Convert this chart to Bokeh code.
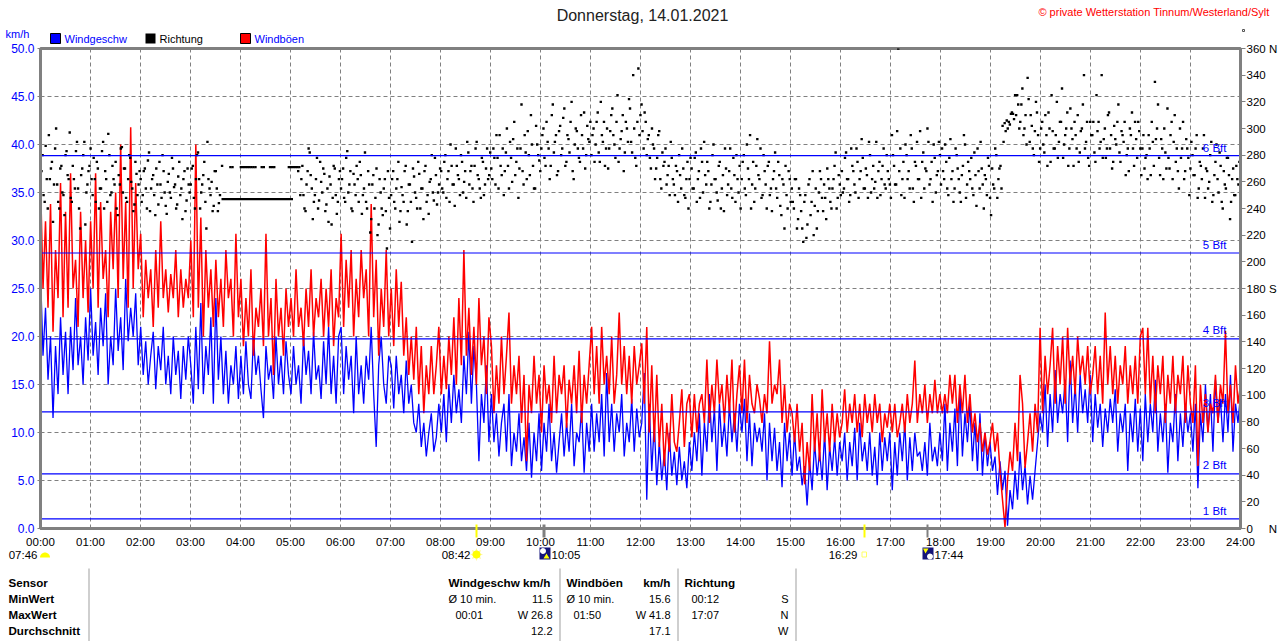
import numpy as np
from bokeh.plotting import figure
from bokeh.core.properties import value
from bokeh.models import Range1d, LinearAxis, FixedTicker
from bokeh.embed import file_html
from bokeh.resources import INLINE

# ---- data ----
N = float("nan")
wind_speed = [
 26.8,18,23,15.5,20,11.5,19,14,22,16,20.5,14,21,16.5,24,17,20,15,22,17.5,
 25,18,21.5,16,23,19,24.5,15,20,17,25,18.5,22,16.5,26,19.5,23,20,24.5,17,
 21,16,19.5,15,18,20.5,14.5,19,16.5,21,15,18,14,20,16,18.5,13.5,19,15.5,20,
 17,13,21,14.5,23.5,14,19,16,22,13,24,15.5,20,14,18.5,13,17,15,19,13.5,
 18,14,19.5,15,13.5,20,16,18,14.5,11.5,19,15.5,17,13.5,20,15,18,14,19.5,16,
 14,19,15,17,13,20,16,18.5,14,20.5,15.5,17,13.5,19.5,15,21,14,18,13,20,
 21,14,19,15.5,18,12,20,14,17,13,18,15.5,21,14,8.5,17,20,15,13,18,
 17,12.5,18,14,16,12,17.5,13,15,11,10,13,8.5,11,7.5,10,12,8,9.5,13,
 10,14,9,15,11,16,12,14.5,11,18,14,20.5,13,19,15,7,14,11,17,9,
 14,9,12,7.5,11,13,8,14,6.5,10,8,12,7,9.5,6,11,5.3,10,7,12,
 6,11,8,13,7,10,5.8,9,12,7.5,11,8,13,6.5,10,9,12.5,5.8,11,8,
 13,8,12,9,14,7.5,16.2,9,13,8,12,10,14,7.5,11,9,13.5,8,12.5,9.5,
 11,16.2,3,13,6,11,4.5,9,5,8,4,10,5.5,8,4.5,8.5,5,7,4.2,9,
 6,10,7,12,5.5,11,8,14,9,12.5,6,13,8.5,11,7.5,13,9,12,8,13,
 10,13.5,7,12,6.5,11,9,10.5,8,12,5,11,7,10.5,6,9,4.3,11,7,10,
 5.5,10,6,7.5,4.5,6.5,2.4,7,4,9,5.5,8,5,10,4,8.5,6,9.5,5.5,9,
 7,10,5,9,6.5,10.5,5,11,7,9,6,10,5.5,8.5,4.5,10,6,9.5,7,10,
 4,9,5.5,10,7,11,5,9.5,6,10,7.5,8,6,9,5.5,11,7,8.5,6.5,10,
 7,13,6,11,8,12.5,6.5,14.5,7.5,12,9,13,7,11,6,12,5.5,10,6.5,9,
 6,7.5,3.5,7,4,6,0.3,4,2,6,3,8,4,6.5,2.5,5.5,3,6,9,12,
 10,15,8.5,14,10,16.5,11,14,12,15.5,9,17.5,11,15,10,16,12,14.5,11,16,
 9,14,10.5,13,8.5,12.5,10,13.5,11,14.5,8,12,10,13,6,12,9,13.5,8,12.5,
 7,14,9,13,10,15.5,8,12,9,13,5.8,11,9,14,7,12,8.5,13,10,12,
 8,13,4.2,12,9,15,10,14,8,15.5,11,13.5,9,14,10,16,8,13,11,14,
]
wind_gust = [
 36.3,25,32,23,33.8,20.5,29,24,36,22,33,23,37,25,28,21,33,24,30,22.5,
 32,25,37,23,34,26,29,22,33,27,35,24,40,26,34,23,41.8,25,36,27,
 30.7,22,28,24,27,21,29,23,32,24,27,22.5,26.5,24,29,22,27,23,26,24,
 30,22,40,23,32.4,20,29,23,27,21,28,22,26,21,29,24,26,20,30.7,22,
 26,19,24,20,27,18,23,21,25,19,30.7,20,24,16,26,20,23,18,25,21,
 24,20,27,21,23,19,25,21,27,20,24,22,26,20,25,21,27,19,24,22,
 30.7,21,28,23,29,20,26,22,29,24,27,20,33.8,22,28,18,25,21,29,20,
 25,19,27,21,25.7,18,22,16,20,15.5,21,14,19,12,17,14,19,14,17,21,
 14,18,14.5,20,16,22,15,24,17,29,18,23,16,21,15,24,17,20,14,22,
 19,12,17,13,20,14,18,22.5,13,17,14,18,11,16,7,15,12,18,13,16,
 10,17,13,15,11,18,12,16,14,17,10.5,15.5,13,17,12,18.5,11,16,13,17,
 21,14,19,13,21,15,18,14,20,13,16,22.5,15,19,14,18,13,19,15,17,
 19.3,13,21,10,17,9,16,8.5,13,6.5,11,8,14,9,8,11,14.5,8.5,13,14,
 9.5,14,10,13,14,11,17.6,11,15,12,17.6,13,15,11,16,12,17.6,10,14,17,
 12,17.6,11,16,13,12,15,13.5,11,14,12,19.5,13,15,14,17.6,11,15,10,13,
 12,9,13,8,11,4.6,9,6,14,8,12,7,14.5,9,12,8,13,9,12,9.5,
 11,14.5,10,13,11,14,10,13,9.5,14,11,13,10,14,11,13,9,12,10.5,13,
 10,13,9.5,11,13,10,14,11,13,17.5,11,14,12,15,11,14,12,15.5,12,14,
 12,14,12,16,13,16,11,15,12,16,11,14,10,12,9,11,8,10,7.7,9,
 11,8,10,6,3,0.1,5,8,6,11,7,16,13,6.3,9,12,8,13,10,20.9,
 12,18,14,17,20.9,13,19,15,20,13,20.9,15,18,14,20,16,18,15,19,14,
 16,19,14,18,13,22.5,15,19,14,18,13,17,15,19,13,17,14,18,13,20,
 20.9,14,20.9,13,18,12,17,14,18,11,16,13,18,12,16,14,18,11,17,13,
 11,17,6.5,15,11,14,10,13,12,16,11,15,13,20.6,12,15,11,17,13,15,
]
wind_dir_a = [
 255,280,245,262,295,270,230,285,258,240,272,250,280,265,297,245,262,283,255,225,270,290,252,268,
 285,250,262,275,240,255,290,268,245,280,252,262,275,235,258,286,270,248,262,278,255,243,266,258,
 262,250,270,240,282,255,265,235,258,275,248,268,242,260,252,278,256,240,264,250,232,268,246,258,
 258,272,240,280,262,252,265,245,290,255,260,242,268,238,250,272,N,N,N,271,271,N,N,N,
 271,271,271,271,271,271,271,271,N,N,271,271,N,N,271,271,271,N,N,N,N,N,N,271,
 271,271,271,271,271,262,250,238,268,282,255,245,262,240,275,252,266,243,230,258,248,270,236,262,
 255,270,245,283,258,240,266,250,262,275,236,255,245,268,222,258,240,270,228,252,235,262,210,248,
 250,268,240,262,230,256,245,272,238,258,215,264,248,275,240,255,268,245,236,262,252,278,243,258,
 268,252,280,262,245,272,258,285,265,250,275,260,248,282,268,255,272,290,262,248,275,258,285,265,
 270,285,258,278,295,265,250,282,272,290,260,305,275,248,285,268,295,262,280,310,272,255,288,276,
 285,300,272,290,262,310,282,295,268,302,285,315,275,292,305,268,288,298,278,310,285,270,302,290,
 280,300,288,312,275,295,305,285,270,298,315,288,305,275,292,310,282,300,322,290,340,278,305,295,
 318,285,305,292,278,300,285,270,295,262,282,275,258,272,290,262,250,268,280,255,270,248,275,262,
 270,255,282,262,248,275,290,258,268,245,280,262,252,272,240,265,285,250,268,255,278,245,262,272,
 262,280,250,270,295,258,245,272,265,285,250,268,240,275,255,262,282,248,265,235,258,272,240,262,
 255,240,262,232,250,225,245,218,258,235,268,242,225,252,262,238,248,270,255,240,262,282,248,258,
 268,255,282,262,250,272,258,285,248,268,278,255,265,290,252,272,260,248,275,262,285,255,268,258,
 295,272,258,360,285,262,248,280,268,295,255,275,290,262,248,282,270,300,258,275,288,252,268,280,
 285,262,275,250,292,268,255,280,262,245,272,288,258,268,278,250,265,285,255,270,240,262,278,248,
 270,255,280,262,272,302,304,306,305,311,311,325,325,300,318,295,310,338,290,302,280,320,295,285,
 305,282,295,312,275,298,285,320,290,305,278,295,312,285,300,272,295,310,282,300,340,290,278,305,
 295,282,325,305,290,278,300,285,312,295,275,292,305,282,298,290,265,285,300,312,272,292,305,285,
 285,270,280,295,265,290,335,300,278,292,262,282,315,270,305,290,275,268,300,285,262,292,278,270,
 280,265,295,255,272,285,248,268,260,290,250,275,262,282,245,268,255,278,232,262,250,272,258,265,
]
wind_dir_b = [
 268,250,287,240,262,275,258,300,245,270,252,235,283,262,248,272,255,290,240,265,280,228,258,272,
 262,278,245,270,255,283,240,262,296,250,272,258,240,265,285,252,270,245,280,260,238,275,250,268,
 245,268,255,276,238,262,250,270,243,258,280,252,236,266,248,270,258,243,275,255,262,238,270,252,
 270,248,262,282,240,258,275,225,262,250,238,268,255,244,N,N,N,N,N,N,N,N,N,N,
 N,N,N,N,N,N,N,N,N,N,N,N,N,N,N,N,N,N,N,N,N,N,N,N,
 N,N,N,268,250,272,240,258,285,265,232,250,278,246,260,270,238,255,264,228,272,250,245,268,
 262,248,278,252,268,238,258,272,245,265,250,282,240,258,232,265,248,220,262,240,255,238,268,225,
 262,245,255,275,238,250,268,228,258,245,270,252,240,266,255,232,272,250,260,280,246,265,252,270,
 255,275,248,268,288,258,242,272,262,280,252,268,290,258,272,245,285,265,255,278,250,270,262,282,
 262,278,295,255,272,285,268,300,255,278,292,265,285,270,318,258,282,298,265,288,255,302,280,268,
 295,278,305,285,272,318,290,265,298,280,308,272,295,282,320,262,300,285,275,295,312,280,292,305,
 295,275,305,282,320,290,272,300,285,310,295,278,325,285,298,268,305,290,315,282,300,272,345,310,
 298,312,280,295,270,288,262,278,298,255,272,285,265,250,278,258,272,245,265,285,250,262,240,278,
 255,278,245,268,285,252,265,275,240,258,288,262,246,275,255,238,270,258,285,248,265,280,252,240,
 275,255,288,262,240,275,255,292,262,248,280,258,272,250,238,268,255,275,242,262,225,250,268,245,
 245,262,225,255,238,215,250,228,262,245,220,255,238,268,248,258,232,262,245,255,272,240,265,250,
 252,278,262,245,285,268,252,275,262,292,255,270,248,280,262,255,290,268,250,272,258,280,262,248,
 280,258,298,268,250,275,288,262,255,285,245,272,262,298,275,255,268,290,262,245,278,265,290,258,
 268,288,255,278,262,245,285,270,252,265,295,248,275,262,255,282,242,268,290,258,265,250,272,235,
 258,285,248,270,255,290,298,300,303,312,307,310,318,305,330,300,288,322,310,285,298,312,275,300,
 288,310,272,300,325,285,295,278,305,330,288,300,272,315,292,305,285,275,298,318,285,305,272,295,
 305,275,298,285,340,292,278,310,285,270,302,288,318,275,295,305,280,268,295,285,305,278,298,265,
 295,278,262,285,305,272,292,318,265,285,300,270,278,295,262,310,285,255,278,305,268,285,250,290,
 265,285,248,275,262,295,270,255,280,245,265,288,252,272,240,258,278,265,245,270,250,262,275,240,
]
steady_dir_hours = [3.62, 5.05]
steady_dir_deg = [247, 247]
bft_levels = [1.0, 5.7, 12.15, 19.75, 28.7, 38.85]
bft_names = ["1 Bft", "2 Bft", "3 Bft", "4 Bft", "5 Bft", "6 Bft"]
speed_ticks = [0, 5, 10, 15, 20, 25, 30, 35, 40, 45, 50]
hour_ticks = list(range(25))
dir_ticks = list(range(0, 361, 20))
title_text = "Donnerstag, 14.01.2021"
credit_text = "\u00a9 private Wetterstation Tinnum/Westerland/Sylt"

BLUE, RED, GRAY = "#0000ff", "#ff0000", "#808080"
FONT = "Liberation Sans"

p = figure(width=1280, height=641, output_backend="svg", toolbar_location=None,
           x_range=Range1d(0, 24), y_range=Range1d(0, 50),
           min_border_left=40, min_border_right=40, min_border_top=48, min_border_bottom=113,
           background_fill_color="white", border_fill_color="white",
           outline_line_color=GRAY, outline_line_width=3, margin=(0, 0, 0, 0))

# transparent sheet over the page for headings, legend, icons and the table (pixel coordinates)
q = figure(width=1280, height=641, output_backend="svg", toolbar_location=None,
           x_range=Range1d(0, 1280), y_range=Range1d(641, 0),
           x_axis_location=None, y_axis_location=None, min_border=0,
           background_fill_color=None, border_fill_color=None,
           outline_line_color=None, margin=(-641, 0, 0, 0))
q.xgrid.visible = False
q.ygrid.visible = False

for g, ticks in ((p.xgrid[0], hour_ticks), (p.ygrid[0], speed_ticks)):
    g.ticker = FixedTicker(ticks=ticks)
    g.grid_line_color = GRAY
    g.grid_line_dash = "4 3"
    g.grid_line_width = 1

ya = p.yaxis[0]
ya.ticker = FixedTicker(ticks=speed_ticks)
ya.major_label_overrides = {t: f"{t:.1f}" for t in speed_ticks}
ya.major_label_text_color = BLUE
ya.major_label_text_font = FONT
ya.major_label_text_font_size = "12px"
ya.axis_line_color = GRAY
ya.axis_line_width = 3
ya.major_tick_line_color = GRAY
ya.major_tick_out = 3
ya.major_tick_in = 0
ya.minor_tick_line_color = None
ya.major_label_standoff = 3

xa = p.xaxis[0]
xa.ticker = FixedTicker(ticks=hour_ticks)
xa.major_label_overrides = {h: f"{h:02d}:00" for h in hour_ticks}
xa.major_label_text_font = FONT
xa.major_label_text_font_size = "11.5px"
xa.major_label_text_color = "black"
xa.axis_line_color = GRAY
xa.axis_line_width = 3
xa.major_tick_line_color = None
xa.minor_tick_line_color = None
xa.major_tick_out = 0
xa.major_tick_in = 0
xa.major_label_standoff = 7

p.extra_y_ranges = {"dir": Range1d(0, 360)}
ra = LinearAxis(y_range_name="dir", ticker=FixedTicker(ticks=dir_ticks))
nb = "\u00a0"
ra.major_label_overrides = {**{t: str(t) for t in dir_ticks}, 0: "0" + nb * 5 + "N", 180: "180" + nb + "S", 360: "360" + nb + "N"}
ra.major_label_text_font = FONT
ra.major_label_text_font_size = "11.5px"
ra.major_label_text_color = "black"
ra.axis_line_color = GRAY
ra.axis_line_width = 3
ra.major_tick_line_color = GRAY
ra.major_tick_out = 5
ra.major_tick_in = 0
ra.minor_tick_line_color = None
ra.major_label_standoff = 1
p.add_layout(ra, "right")

t_speed = np.linspace(0, 24, len(wind_speed))
t_gust = np.linspace(0, 24, len(wind_gust))
t_dir = np.linspace(0, 24, len(wind_dir_a))

p.line(t_speed, wind_speed, line_color=BLUE, line_width=1.3)
p.line(t_gust, wind_gust, line_color=RED, line_width=1.5)
p.scatter(t_dir, np.array(wind_dir_a), marker="square", size=2.4, fill_color="black", line_color=None, y_range_name="dir")
p.scatter(t_dir + 0.02, np.array(wind_dir_b), marker="square", size=2.4, fill_color="black", line_color=None, y_range_name="dir")
p.line(steady_dir_hours, steady_dir_deg, line_color="black", line_width=2.4, y_range_name="dir")

for level in bft_levels:
    p.line([0, 24], [level, level], line_color=BLUE, line_width=1.2)

def text(x, y, s, color="black", size=11, align="left", bold=False):
    q.text([x], [y], text=[s], text_color=color, text_font=value(FONT), text_font_size=f"{size}px",
           text_align=align, text_baseline="middle", text_font_style="bold" if bold else "normal")

def box(x0, x1, y0, y1, color, line=None):
    q.quad(left=[x0], right=[x1], top=[y0], bottom=[y1], fill_color=color, line_color=line)

def poly(pts, color):
    q.patch([a for a, b in pts], [b for a, b in pts], fill_color=color, line_color=None)

def disc(cx, cy, r, n=16, a0=0, a1=2 * np.pi):
    return [(cx + r * np.cos(a), cy - r * np.sin(a)) for a in np.linspace(a0, a1, n)]

# headings and legend
text(642, 15, title_text, color="#222222", size=16, align="center")
text(1269, 11, credit_text, color=RED, size=11, align="right")
text(5, 33, "km/h", color=BLUE, size=11)
box(50, 60, 33, 43, BLUE, "#000000")
text(64, 38, "Windgeschw", color=BLUE)
box(145, 155, 33, 43, "#000000")
text(159, 38, "Richtung")
box(240, 250, 33, 43, RED, "#000000")
text(254, 38, "Windb\u00f6en", color=BLUE)
box(1242, 1244, 29, 31, None, "#555555")

# Beaufort names
for name, ypix in zip(bft_names, [510, 464, 402, 329, 244, 147]):
    text(1226, ypix, name, color=BLUE, size=11.5, align="right")

# sun and moon marks on the time axis
box(475, 477, 524, 537, "#ffff00")
box(863, 865, 524, 537, "#ffff00")
box(542, 545, 524, 537, GRAY)
box(926, 928, 524, 537, GRAY)
text(37, 554, "07:46", size=11.5, align="right")
poly(disc(44.5, 557, 5, 12, 0, np.pi), "#ffff00")
text(470, 554, "08:42", size=11.5, align="right")
poly([(476 + (6.5 if i % 2 == 0 else 3.5) * np.cos(i * np.pi / 8),
       554 - (6.5 if i % 2 == 0 else 3.5) * np.sin(i * np.pi / 8)) for i in range(16)], "#fff799")
poly(disc(476, 554, 4), "#ffff00")
box(539, 550, 547, 559, "#14147a")
poly(disc(542.5, 550.5, 3), "#ffffff")
poly([(546, 553), (549, 558), (543, 558)], "#ffff00")
text(551, 554, "10:05", size=11.5)
text(857, 554, "16:29", size=11.5, align="right")
box(861.5, 866, 551.5, 556.5, None, "#ffff66")
box(922, 933, 547, 559, "#14147a")
poly(disc(929.5, 556, 3), "#ffffff")
poly([(925, 553), (928, 548), (922.5, 548)], "#ffff00")
text(934, 554, "17:44", size=11.5)

# summary table
for xv in [88.5, 559.5, 677.5, 795.5]:
    box(xv - 0.5, xv + 0.5, 568, 641, "#a0a0a0")
for s, yv in zip(["Sensor", "MinWert", "MaxWert", "Durchschnitt"], [582, 598, 614, 630]):
    text(8, yv, s, bold=True, size=11.6)
text(448, 582, "Windgeschw km/h", bold=True, size=11.7)
text(448, 598, "\u00d8 10 min.")
text(552, 598, "11.5", align="right")
text(455, 614, "00:01")
text(552, 614, "W 26.8", align="right")
text(552, 630, "12.2", align="right")
text(566, 582, "Windb\u00f6en", bold=True, size=11.7)
text(670, 582, "km/h", bold=True, align="right", size=11.7)
text(566, 598, "\u00d8 10 min.")
text(670, 598, "15.6", align="right")
text(573, 614, "01:50")
text(670, 614, "W 41.8", align="right")
text(670, 630, "17.1", align="right")
text(684, 582, "Richtung", bold=True, size=11.7)
text(691, 598, "00:12")
text(691, 614, "17:07")
text(788, 598, "S", align="right")
text(788, 614, "N", align="right")
text(788, 630, "W", align="right")

open("out.html", "w").write(file_html([p, q], INLINE))
